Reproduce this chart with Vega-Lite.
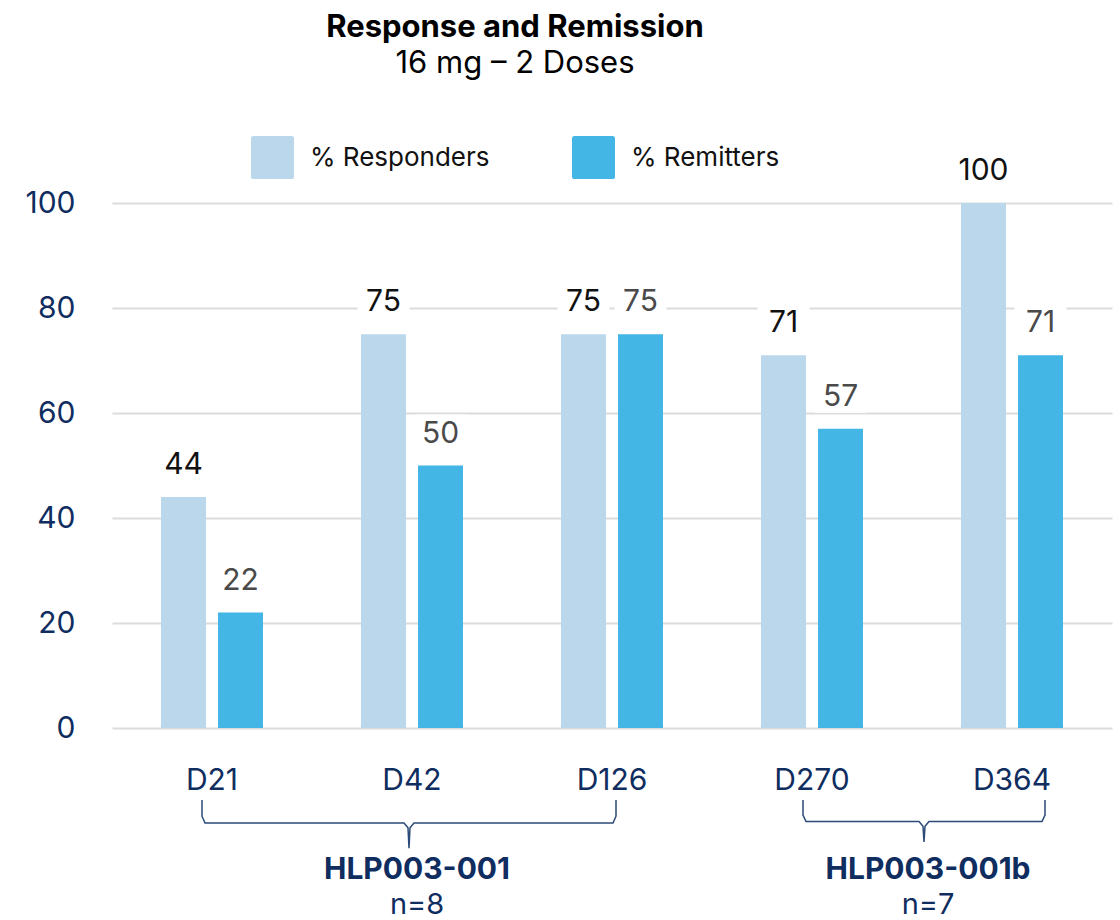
{
  "$schema": "https://vega.github.io/schema/vega-lite/v6.json",
  "width": 1000,
  "height": 525,
  "autosize": {"type": "none"},
  "padding": {"left": 112, "top": 203, "right": 8, "bottom": 192},
  "background": "white",
  "config": {"font": "Inter", "view": {"stroke": null}},
  "title": {
    "text": "Response and Remission",
    "subtitle": "16 mg – 2 Doses",
    "fontSize": 31,
    "fontWeight": "bold",
    "subtitleFontSize": 31,
    "color": "#000000",
    "subtitleColor": "#000000",
    "anchor": "middle",
    "frame": "group",
    "dx": -97,
    "offset": 56,
    "subtitlePadding": 5,
    "font": "Inter",
    "subtitleFont": "Inter"
  },
  "datasets": {
    "bars": [
      {"day": "D21", "series": "% Responders", "value": 44},
      {"day": "D21", "series": "% Remitters", "value": 22},
      {"day": "D42", "series": "% Responders", "value": 75},
      {"day": "D42", "series": "% Remitters", "value": 50},
      {"day": "D126", "series": "% Responders", "value": 75},
      {"day": "D126", "series": "% Remitters", "value": 75},
      {"day": "D270", "series": "% Responders", "value": 71},
      {"day": "D270", "series": "% Remitters", "value": 57},
      {"day": "D364", "series": "% Responders", "value": 100},
      {"day": "D364", "series": "% Remitters", "value": 71}
    ],
    "brace": [
      {"g": "a", "o": 1, "u": 0.45, "v": -13.7},
      {"g": "a", "o": 2, "u": 0.45, "v": -16.8},
      {"g": "a", "o": 3, "u": 0.465, "v": -18.1},
      {"g": "a", "o": 4, "u": 1.46, "v": -18.1},
      {"g": "a", "o": 5, "u": 1.48, "v": -19.0},
      {"g": "a", "o": 6, "u": 1.485, "v": -22.9},
      {"g": "a", "o": 7, "u": 1.49, "v": -19.0},
      {"g": "a", "o": 8, "u": 1.51, "v": -18.1},
      {"g": "a", "o": 9, "u": 2.505, "v": -18.1},
      {"g": "a", "o": 10, "u": 2.52, "v": -16.8},
      {"g": "a", "o": 11, "u": 2.52, "v": -13.7},
      {"g": "b", "o": 1, "u": 3.455, "v": -13.7},
      {"g": "b", "o": 2, "u": 3.455, "v": -16.6},
      {"g": "b", "o": 3, "u": 3.47, "v": -17.8},
      {"g": "b", "o": 4, "u": 4.035, "v": -17.8},
      {"g": "b", "o": 5, "u": 4.055, "v": -18.7},
      {"g": "b", "o": 6, "u": 4.06, "v": -21.7},
      {"g": "b", "o": 7, "u": 4.065, "v": -18.7},
      {"g": "b", "o": 8, "u": 4.085, "v": -17.8},
      {"g": "b", "o": 9, "u": 4.65, "v": -17.8},
      {"g": "b", "o": 10, "u": 4.665, "v": -16.6},
      {"g": "b", "o": 11, "u": 4.665, "v": -13.7}
    ],
    "groups": [
      {"kind": "name", "label": "HLP003-001", "u": 1.525, "v": -27.0},
      {"kind": "n", "label": "n=8", "u": 1.525, "v": -33.7},
      {"kind": "name", "label": "HLP003-001b", "u": 4.08, "v": -27.0},
      {"kind": "n", "label": "n=7", "u": 4.08, "v": -33.7}
    ]
  },
  "layer": [
    {
      "data": {"name": "bars"},
      "encoding": {
        "x": {
          "field": "day",
          "type": "nominal",
          "sort": ["D21", "D42", "D126", "D270", "D364"],
          "scale": {"paddingInner": 0.49, "paddingOuter": 0.245},
          "axis": {
            "title": null,
            "domain": false,
            "ticks": false,
            "labelAngle": 0,
            "labelFontSize": 30,
            "labelColor": "#0F2D5F",
            "labelPadding": 37,
            "labelFont": "Inter"
          }
        },
        "xOffset": {
          "field": "series",
          "type": "nominal",
          "sort": ["% Responders", "% Remitters"],
          "scale": {"paddingInner": 0.2105, "paddingOuter": 0}
        },
        "y": {
          "field": "value",
          "type": "quantitative",
          "scale": {"domain": [0, 100], "nice": false},
          "axis": {
            "title": null,
            "values": [0, 20, 40, 60, 80, 100],
            "grid": true,
            "gridColor": "#DCDCDC",
            "gridWidth": 2,
            "domain": false,
            "ticks": false,
            "labelFontSize": 30,
            "labelColor": "#0F2D5F",
            "labelPadding": 37,
            "labelFont": "Inter"
          }
        }
      },
      "layer": [
        {
          "mark": {"type": "bar"},
          "encoding": {
            "color": {
              "field": "series",
              "type": "nominal",
              "sort": ["% Responders", "% Remitters"],
              "scale": {"domain": ["% Responders", "% Remitters"], "range": ["#BBD7EC", "#43B6E6"]},
              "legend": {
                "title": null,
                "orient": "none",
                "legendX": 139,
                "legendY": -67,
                "direction": "horizontal",
                "padding": 0,
                "symbolType": "M-0.88,-1H0.88Q1,-1 1,-0.88V0.88Q1,1 0.88,1H-0.88Q-1,1 -1,0.88V-0.88Q-1,-1 -0.88,-1Z",
                "symbolSize": 1849,
                "symbolStrokeWidth": 0,
                "symbolOpacity": 1,
                "labelFontSize": 26,
                "labelFont": "Inter",
                "labelColor": "#111111",
                "labelOffset": 16,
                "labelLimit": 400,
                "columnPadding": 82
              }
            }
          }
        },
        {
          "mark": {"type": "bar", "color": "white", "width": 52, "yOffset": -51, "y2Offset": -16},
          "encoding": {"y2": {"field": "value"}}
        },
        {
          "mark": {"type": "text", "fontSize": 30, "font": "Inter", "baseline": "alphabetic", "dy": -23},
          "encoding": {
            "text": {"field": "value", "type": "quantitative"},
            "color": {
              "condition": {"test": "datum.series === '% Remitters'", "value": "#4A4A4A"},
              "value": "#111111"
            }
          }
        }
      ]
    },
    {
      "data": {"name": "brace"},
      "mark": {"type": "line", "stroke": "#2B4A78", "strokeWidth": 1.5, "clip": false},
      "encoding": {
        "x": {"field": "u", "type": "quantitative", "scale": {"domain": [0, 5], "nice": false, "zero": false}, "axis": null},
        "y": {"field": "v", "type": "quantitative", "scale": {"domain": [0, 100], "nice": false}, "axis": null},
        "detail": {"field": "g", "type": "nominal"},
        "order": {"field": "o", "type": "quantitative"}
      }
    },
    {
      "data": {"name": "groups"},
      "encoding": {
        "x": {"field": "u", "type": "quantitative", "scale": {"domain": [0, 5], "nice": false, "zero": false}, "axis": null},
        "y": {"field": "v", "type": "quantitative", "scale": {"domain": [0, 100], "nice": false}, "axis": null},
        "text": {"field": "label", "type": "nominal"}
      },
      "layer": [
        {
          "transform": [{"filter": "datum.kind === 'name'"}],
          "mark": {"type": "text", "fontSize": 30, "fontWeight": "bold", "font": "Inter", "color": "#0F2D5F", "baseline": "middle", "clip": false}
        },
        {
          "transform": [{"filter": "datum.kind === 'n'"}],
          "mark": {"type": "text", "fontSize": 29, "font": "Inter", "color": "#0F2D5F", "baseline": "middle", "clip": false}
        }
      ]
    }
  ],
  "resolve": {"scale": {"x": "independent", "y": "independent"}}
}
